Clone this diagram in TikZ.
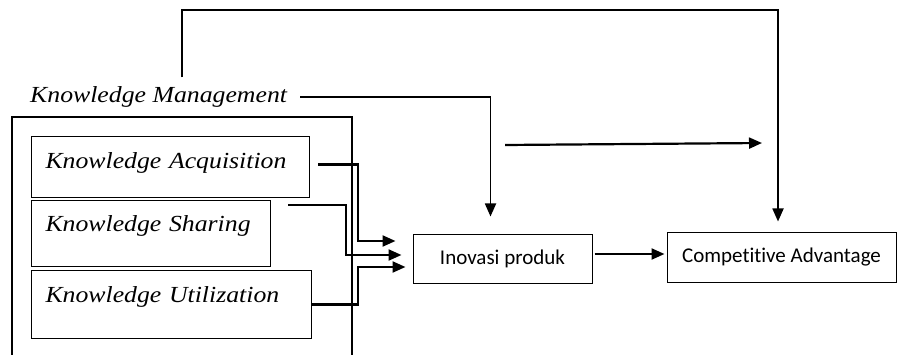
\documentclass[tikz,border=0pt]{standalone}
\usepackage{fontspec}
\setmainfont{Liberation Serif}
\newfontfamily\conceptfont[FakeStretch=1.12]{Liberation Serif}
\newfontfamily\outcomefont[Ligatures=NoCommon]{Carlito}
\usetikzlibrary{arrows.meta}

\begin{document}
\begin{tikzpicture}[
    x=1pt, y=-1pt,
    concept/.style={
        font={\conceptfont\itshape\fontsize{23}{25}\selectfont}
    },
    dimension/.style={
        concept,
        draw=black,
        line width=1pt,
        anchor=north west,
        inner xsep=14pt,
        inner ysep=0pt,
        align=left
    },
    outcome/.style={
        draw=black,
        line width=1pt,
        minimum height=48pt,
        inner sep=0pt,
        font={\outcomefont\fontsize{21}{24}\selectfont}
    },
    kmframe/.style={
        line width=1.8pt
    },
    link/.style={
        -{Triangle[length=13pt,width=11pt]},
        line width=2.2pt
    }
]
    \useasboundingbox (0,0) rectangle (920,355);

    \node[concept, anchor=west, inner sep=0pt] (km) at (30,97)
        {Knowledge Management};
    \draw[kmframe] (12,357) |- (352,117) -- (352,357);

    \node[dimension, text width=250pt, text height=32pt, text depth=29pt]
        (acq) at (31,136) {Knowledge Acquisition};
    \node[dimension, text width=211pt, text height=31pt, text depth=35pt]
        (share) at (31,200) {Knowledge Sharing};
    \node[dimension, text width=252pt, text height=32pt, text depth=36pt]
        (util) at (31,270) {Knowledge Utilization};

    \node[outcome, minimum width=179pt] (inov) at (502.5,259)
        {Inovasi produk};
    \node[outcome, minimum width=229pt, minimum height=49pt] (ca) at (781.5,257.5)
        {Competitive Advantage};

    \coordinate (ridge) at (480,10);
    \coordinate (cross-a) at (505,145);
    \coordinate (cross-b) at (762,143);

    \draw[link] ([xshift=8pt,yshift=2.5pt]acq.east) -- ++(40,0)
        |- ([xshift=-17pt,yshift=18pt]inov.west);
    \draw[link] ([xshift=17pt,yshift=-5pt]share.north east) -- ++(58,0)
        |- ([xshift=-11pt,yshift=4pt]inov.west);
    \draw[link] (util.east) -- ++(46,0)
        |- ([xshift=-7pt,yshift=-8pt]inov.west);

    \draw[link] ([xshift=2pt,yshift=5pt]inov.east) --
        ([xshift=-2pt,yshift=5pt]inov.east -| ca.west);

    \draw[link, line width=1.8pt] ([xshift=13pt]km.east)
        -| ([xshift=-12pt,yshift=18pt]inov.north);
    \draw[link, line width=1.8pt] ([xshift=23.5pt,yshift=9pt]km.north)
        |- (ridge) -| ([xshift=-3.5pt,yshift=11pt]ca.north);
    \draw[link] (cross-a) -- (cross-b);
\end{tikzpicture}
\end{document}
